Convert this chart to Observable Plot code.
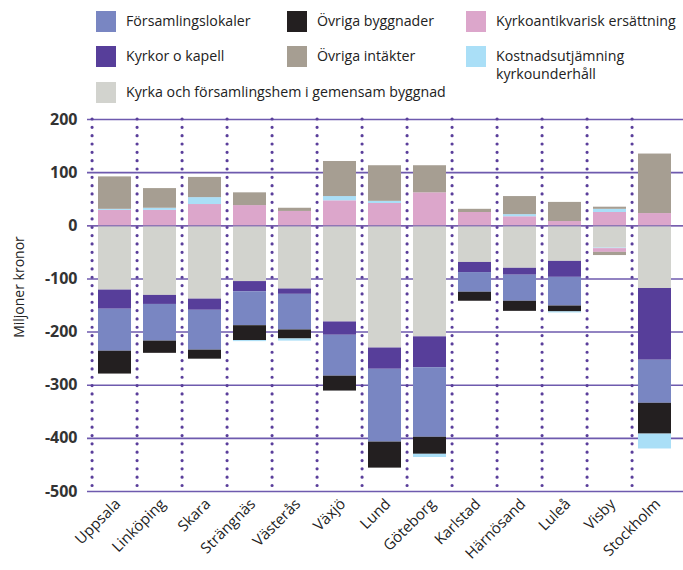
<!DOCTYPE html>
<html>
<head>
<meta charset="utf-8">
<script src="https://cdn.jsdelivr.net/npm/d3@7"></script>
<script src="https://cdn.jsdelivr.net/npm/@observablehq/plot@0.6"></script>
<style>
  body { margin: 0; background: #fff; font-family: "Open Sans", sans-serif; color: #222; }
  #wrap { position: relative; width: 683px; height: 570px; overflow: hidden; }
  #legend { position: relative; height: 100px; font-size: 14.2px; }
  .item { position: absolute; display: flex; align-items: flex-start; line-height: 18px; white-space: nowrap; }
  .sw { width: 20px; height: 21px; margin-right: 10px; flex: none; margin-top: -1px; }
  #ylabel { position: absolute; left: 18px; top: 287px; transform: translate(-50%, -50%) rotate(-90deg); font-size: 14px; white-space: nowrap; }
</style>
</head>
<body>
<div id="wrap">
  <div id="legend"></div>
  <div id="chart"></div>
  <div id="ylabel">Miljoner kronor</div>
</div>
<script>
// ---- data ----
const cities = ["Uppsala","Linköping","Skara","Strängnäs","Västerås","Växjö","Lund","Göteborg","Karlstad","Härnösand","Luleå","Visby","Stockholm"];

const seriesNames = ["Församlingslokaler","Övriga byggnader","Kyrkoantikvarisk ersättning","Kyrkor o kapell","Övriga intäkter","Kostnadsutjämning kyrkounderhåll","Kyrka och församlingshem i gemensam byggnad"];
const seriesColors = ["#7986c2","#231f20","#dca6cb","#573e9a","#a69e92","#aadff7","#d2d3ce"];

// positive values (Mkr)
const kyrkoantikvariskPos = [29, 29, 40, 38, 27, 47, 42, 62, 25, 17, 8, 25, 23];
const kostnadsutjamningPos = [2, 4, 13, 0, 0, 8, 4, 0, 0, 4, 0, 6, 0];
const ovrigaIntakterPos = [61, 37, 38, 24, 6, 66, 67, 51, 6, 34, 36, 4, 112];

// negative values (Mkr)
const kyrkaGemensam = [-121, -131, -138, -105, -119, -181, -230, -209, -69, -80, -67, -42, -118];
const kyrkorKapell = [-36, -17, -21, -19, -10, -25, -40, -58, -19, -13, -30, 0, -135];
const forsamlingslokaler = [-79, -69, -75, -64, -67, -77, -137, -131, -37, -49, -54, 0, -81];
const ovrigaByggnader = [-43, -23, -17, -28, -17, -28, -49, -32, -17, -19, -11, 0, -58];
const kostnadsutjamningNeg = [0, 0, 0, -2, -4, 0, 0, -6, 0, 0, -2, -1, -28];
const kyrkoantikvariskNeg = [0, 0, 0, 0, 0, 0, 0, 0, 0, 0, 0, -7, 0];
const ovrigaIntakterNeg = [0, 0, 0, 0, 0, 0, 0, 0, 0, 0, 0, -6, 0];

const yTicks = [200, 100, 0, -100, -200, -300, -400, -500];

// ---- build tables ----
function rows(series, values) {
  return values.map((v, i) => ({city: cities[i], series, value: v})).filter(d => d.value !== 0);
}
const posOrder = ["Kyrkoantikvarisk ersättning","Kostnadsutjämning kyrkounderhåll","Övriga intäkter"];
const negOrder = ["Kyrka och församlingshem i gemensam byggnad","Kyrkor o kapell","Församlingslokaler","Övriga byggnader","Kostnadsutjämning kyrkounderhåll","Kyrkoantikvarisk ersättning","Övriga intäkter"];
const posData = [
  ...rows("Kyrkoantikvarisk ersättning", kyrkoantikvariskPos),
  ...rows("Kostnadsutjämning kyrkounderhåll", kostnadsutjamningPos),
  ...rows("Övriga intäkter", ovrigaIntakterPos)
];
const negData = [
  ...rows("Kyrka och församlingshem i gemensam byggnad", kyrkaGemensam),
  ...rows("Kyrkor o kapell", kyrkorKapell),
  ...rows("Församlingslokaler", forsamlingslokaler),
  ...rows("Övriga byggnader", ovrigaByggnader),
  ...rows("Kostnadsutjämning kyrkounderhåll", kostnadsutjamningNeg),
  ...rows("Kyrkoantikvarisk ersättning", kyrkoantikvariskNeg),
  ...rows("Övriga intäkter", ovrigaIntakterNeg)
];

// ---- legend ----
const legendItems = [
  {name: "Församlingslokaler", label: "Församlingslokaler", x: 96, y: 12},
  {name: "Övriga byggnader", label: "Övriga byggnader", x: 287, y: 12},
  {name: "Kyrkoantikvarisk ersättning", label: "Kyrkoantikvarisk ersättning", x: 466, y: 12},
  {name: "Kyrkor o kapell", label: "Kyrkor o kapell", x: 96, y: 47},
  {name: "Övriga intäkter", label: "Övriga intäkter", x: 287, y: 47},
  {name: "Kostnadsutjämning kyrkounderhåll", label: "Kostnadsutjämning<br>kyrkounderhåll", x: 466, y: 47},
  {name: "Kyrka och församlingshem i gemensam byggnad", label: "Kyrka och församlingshem i gemensam byggnad", x: 96, y: 83}
];
const legend = document.getElementById("legend");
legendItems.forEach(it => {
  const el = document.createElement("div");
  el.className = "item";
  el.style.left = it.x + "px";
  el.style.top = it.y + "px";
  const c = seriesColors[seriesNames.indexOf(it.name)];
  el.innerHTML = `<div class="sw" style="background:${c}"></div><div>${it.label}</div>`;
  legend.appendChild(el);
});

// ---- chart ----
const W = 683, marginLeft = 87, marginRight = 0;
const step = (W - marginLeft - marginRight) / cities.length;

const chart = Plot.plot({
  width: W,
  height: 470,
  marginTop: 19,
  marginBottom: 79,
  marginLeft,
  marginRight,
  style: {fontFamily: "Open Sans, sans-serif", background: "white", color: "#222"},
  x: {domain: cities, paddingInner: 0.26, paddingOuter: 0.13, label: null},
  y: {domain: [-500, 200], label: null},
  color: {domain: seriesNames, range: seriesColors},
  marks: [
    Plot.ruleY(yTicks, {stroke: "#6e5aae", strokeWidth: 1.6}),
    Plot.ruleX(cities, {x: d => d, dx: -step / 2, y1: 200, y2: -500, stroke: "#5a3e9b", strokeWidth: 3.2, strokeDasharray: "0 8.33", strokeLinecap: "round"}),
    Plot.barY(negData, Plot.stackY({x: "city", y: "value", fill: "series", order: negOrder})),
    Plot.barY(posData, Plot.stackY({x: "city", y: "value", fill: "series", order: posOrder})),
    Plot.ruleY([0], {stroke: "#7a5fae", strokeOpacity: 0.7, strokeWidth: 1.5}),
    Plot.axisY(yTicks, {tickSize: 0, tickPadding: 10, tickFormat: d => String(d), fontSize: 16, fontWeight: "bold", fill: "#333", label: null}),
    Plot.axisX({tickRotate: -45, tickSize: 0, tickPadding: 10, dx: 3, fontSize: 15, fill: "#222", label: null})
  ]
});
document.getElementById("chart").appendChild(chart);
</script>
</body>
</html>
